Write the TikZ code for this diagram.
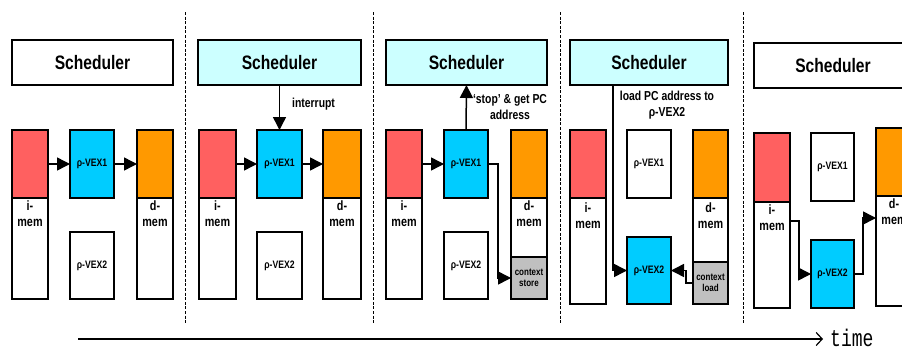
\documentclass[tikz,border=0pt]{standalone}
\usepackage{fontspec}
\setmainfont{Liberation Sans}
\newfontfamily\narsans{Liberation Sans}[FakeStretch=0.8]
\newfontfamily\narmono{Liberation Mono}[FakeStretch=0.75]
\usetikzlibrary{arrows.meta}
\definecolor{memred}{HTML}{FF6060}
\definecolor{vexcyan}{HTML}{00CCFF}
\definecolor{dmorange}{HTML}{FF9900}
\definecolor{schcyan}{HTML}{CCFFFF}
\definecolor{ctxgray}{HTML}{C0C0C0}
\newcommand{\bx}[7]{\node[#6,minimum width={(#4-#2)*1pt},minimum height={(#5-#3)*1pt}] (#1) at ({(#2+#4)/2},{(#3+#5)/2}) {#7};}
\tikzset{
  mbox/.style={draw,line width=1.8pt,inner sep=0pt,outer sep=0pt,fill=white,align=center},
  schbox/.style={mbox,font=\narsans\bfseries\fontsize{19.5}{22}\selectfont},
  vexbox/.style={mbox,font=\narsans\bfseries\fontsize{10.8}{12}\selectfont},
  ctxbox/.style={mbox,fill=ctxgray,font=\narsans\bfseries\fontsize{10}{12}\selectfont},
  memtxt/.style={anchor=north,inner sep=0pt,align=center,font=\narsans\bfseries\fontsize{13.5}{16}\selectfont},
  lbl/.style={inner sep=0pt,align=center,font=\narsans\bfseries\fontsize{13}{15.5}\selectfont},
  arr/.style={line width=1.5pt,-{Triangle[length=13pt,width=13pt]}},
  sep/.style={line width=1pt,dash pattern=on 3pt off 1.6pt},
  timearr/.style={line width=2pt,-{Straight Barb[length=6pt,width=13pt,line width=1.2pt]}}
}
\begin{document}
\begin{tikzpicture}[x=1pt,y=-1pt]
\useasboundingbox (0,0) rectangle (902,351);
\clip (0,0) rectangle (902,351);
\fill[white] (0,0) rectangle (902,351);
% separators
\foreach \i/\x in {1/185,2/373,3/560,4/743}{
  \coordinate (st\i) at (\x,12);
  \coordinate (sb\i) at (\x,323);
  \draw[sep] (st\i) -- (sb\i);
}
% ---------- panel 1
\bx{sch1}{12}{40}{173}{85}{schbox}{Scheduler}
\bx{im1b}{12}{198}{48}{299}{mbox}{}
\bx{im1t}{12}{130}{48}{198}{mbox,fill=memred}{}
\bx{v11}{70}{130}{114}{198}{vexbox,fill=vexcyan}{ρ-VEX1}
\bx{v12}{70}{232}{114}{299}{vexbox}{ρ-VEX2}
\bx{dm1b}{137}{198}{173}{299}{mbox}{}
\bx{dm1t}{137}{130}{173}{198}{mbox,fill=dmorange}{}
\node[memtxt] (im1l) at ([yshift=-3pt]im1b.north) {i-\\mem};
\node[memtxt] (dm1l) at ([yshift=-3pt]dm1b.north) {d-\\mem};
\draw[arr] (im1t.east) -- (v11.west);
\draw[arr] (v11.east) -- (dm1t.west);
% ---------- panel 2
\bx{sch2}{198}{40}{361}{85}{schbox,fill=schcyan}{Scheduler}
\bx{im2b}{199}{198}{236}{299}{mbox}{}
\bx{im2t}{199}{130}{236}{198}{mbox,fill=memred}{}
\bx{v21}{257}{130}{302}{198}{vexbox,fill=vexcyan}{ρ-VEX1}
\bx{v22}{257}{232}{302}{299}{vexbox}{ρ-VEX2}
\bx{dm2b}{323}{198}{361}{299}{mbox}{}
\bx{dm2t}{323}{130}{361}{198}{mbox,fill=dmorange}{}
\node[memtxt] (im2l) at ([yshift=-3pt]im2b.north) {i-\\mem};
\node[memtxt] (dm2l) at ([yshift=-3pt]dm2b.north) {d-\\mem};
\draw[arr] (im2t.east) -- (v21.west);
\draw[arr] (v21.east) -- (dm2t.west);
\draw[arr] (sch2.south) -- (v21.north);
\node[lbl,anchor=west] (int2) at (292,104) {interrupt};
% ---------- panel 3
\bx{sch3}{386}{40}{547}{85}{schbox,fill=schcyan}{Scheduler}
\bx{im3b}{386}{198}{422}{299}{mbox}{}
\bx{im3t}{386}{130}{422}{198}{mbox,fill=memred}{}
\bx{v31}{444}{130}{488}{198}{vexbox,fill=vexcyan}{ρ-VEX1}
\bx{v32}{444}{232}{488}{299}{vexbox}{ρ-VEX2}
\bx{dm3b}{511}{198}{547}{257}{mbox}{}
\bx{dm3t}{511}{130}{547}{198}{mbox,fill=dmorange}{}
\bx{cs3}{511}{257}{547}{299}{ctxbox}{context\\[-1pt]store}
\node[memtxt] (im3l) at ([yshift=-3pt]im3b.north) {i-\\mem};
\node[memtxt] (dm3l) at ([yshift=-3pt]dm3b.north) {d-\\mem};
\draw[arr] (im3t.east) -- (v31.west);
\draw[arr] (v31.north) -- (sch3.south);
\draw[arr] (v31.east) -- ++(10,0) |- (cs3.west);
\node[lbl] (stop3) at (510,107) {‘stop’ \& get PC\\address};
% ---------- panel 4
\bx{sch4}{570}{40}{728}{85}{schbox,fill=schcyan}{Scheduler}
\bx{im4b}{570}{198}{606}{304}{mbox}{}
\bx{im4t}{570}{130}{606}{198}{mbox,fill=memred}{}
\bx{v41}{627}{130}{671}{198}{vexbox}{ρ-VEX1}
\bx{v42}{627}{237}{671}{304}{vexbox,fill=vexcyan}{ρ-VEX2}
\bx{dm4b}{693}{198}{728}{262}{mbox}{}
\bx{dm4t}{693}{130}{728}{198}{mbox,fill=dmorange}{}
\bx{cl4}{693}{262}{728}{304}{ctxbox}{context\\[-1pt]load}
\node[memtxt] (im4l) at ([yshift=-5pt]im4b.north) {i-\\mem};
\node[memtxt] (dm4l) at ([yshift=-5pt]dm4b.north) {d-\\mem};
\draw[arr] ([xshift=43pt]sch4.south west) |- (v42.west);
\draw[arr] (cl4.west) -- ++(-7,0) |- (v42.east);
\node[lbl] (load4) at (667,105) {load PC address to\\ρ-VEX2};
% ---------- panel 5
\bx{sch5}{754}{43}{912}{88}{schbox}{Scheduler}
\bx{im5b}{754}{202}{790}{308}{mbox}{}
\bx{im5t}{754}{133}{790}{202}{mbox,fill=memred}{}
\bx{v51}{811}{133}{854}{201}{vexbox}{ρ-VEX1}
\bx{v52}{811}{240}{854}{308}{vexbox,fill=vexcyan}{ρ-VEX2}
\bx{dm5b}{876}{196}{912}{306}{mbox}{}
\bx{dm5t}{876}{128}{912}{196}{mbox,fill=dmorange}{}
\node[memtxt] (im5l) at ([yshift=-3pt]im5b.north) {i-\\mem};
\node[memtxt] (dm5l) at ([yshift=-3pt]dm5b.north) {d-\\mem};
\draw[arr] ([yshift=-19pt]im5b.north east) -- ++(9,0) |- (v52.west);
\draw[arr] (v52.east) -- ++(9,0) |- ([yshift=-22pt]dm5b.north west);
% ---------- time axis
\coordinate (t0) at (78,339);
\node[inner sep=0pt,anchor=west,font=\narmono\fontsize{24}{26}\selectfont] (time) at (830,338) {time};
\draw[timearr] (t0) -- (t0 -| 823,0);
\end{tikzpicture}
\end{document}
